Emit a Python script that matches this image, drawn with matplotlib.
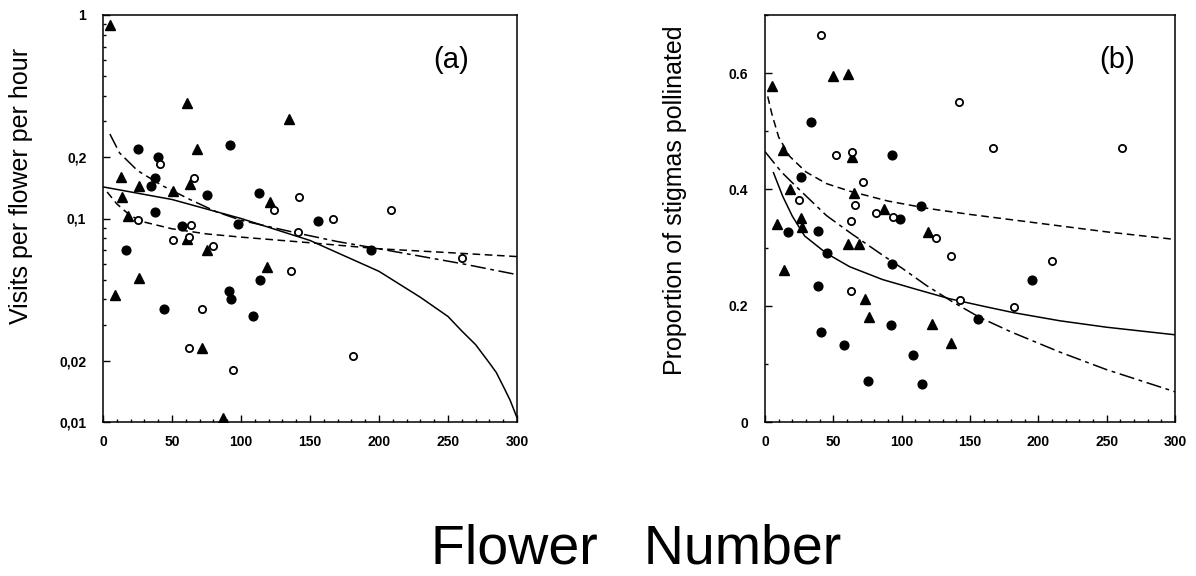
import numpy as np
import matplotlib
matplotlib.use("Agg")
import matplotlib.pyplot as plt
from matplotlib.ticker import FixedLocator, FixedFormatter, MultipleLocator

plt.rcParams['font.family'] = ['Liberation Sans', 'DejaVu Sans']

# ---- panel (a): visits per flower per hour (log scale) ----
tri_a_x = [5, 61, 135, 68, 13, 26, 51, 63, 121, 14, 18, 61, 75, 26, 9, 119, 72, 87]
tri_a_y = [0.89, 0.37, 0.31, 0.22, 0.16, 0.144, 0.137, 0.147, 0.12, 0.128, 0.103,
           0.079, 0.070, 0.051, 0.042, 0.058, 0.023, 0.0105]
fill_a_x = [25, 92, 40, 38, 35, 75, 113, 38, 57, 98, 17, 91, 93, 44, 109, 114, 156, 194]
fill_a_y = [0.22, 0.23, 0.20, 0.158, 0.144, 0.13, 0.134, 0.108, 0.092, 0.094, 0.070,
            0.044, 0.040, 0.036, 0.033, 0.050, 0.097, 0.070]
open_a_x = [41, 66, 142, 124, 25, 64, 51, 62, 80, 72, 136, 141, 167, 62, 94, 209, 260, 181]
open_a_y = [0.186, 0.158, 0.128, 0.11, 0.098, 0.093, 0.078, 0.081, 0.073, 0.036, 0.055,
            0.086, 0.099, 0.023, 0.018, 0.11, 0.064, 0.021]

# fitted curves
solid_a_x = [0, 50, 100, 150, 200, 230, 250, 260, 270, 280, 285, 290, 295, 300]
solid_a_y = [0.143, 0.124, 0.100, 0.078, 0.055, 0.041, 0.033, 0.028, 0.024, 0.0195,
             0.0175, 0.015, 0.0128, 0.0105]
dash_a_x = [3, 10, 20, 30, 50, 75, 100, 150, 200, 250, 300]
dash_a_y = [0.135, 0.118, 0.103, 0.096, 0.089, 0.084, 0.081, 0.076, 0.071, 0.068, 0.065]
dd_a_x = [5, 12, 25, 43, 63, 82, 100, 140, 170, 200, 260, 300]
dd_a_y = [0.26, 0.21, 0.172, 0.145, 0.124, 0.108, 0.098, 0.085, 0.077, 0.071, 0.060, 0.053]

# ---- panel (b): proportion of stigmas pollinated ----
tri_b_x = [5, 50, 61, 13, 64, 18, 65, 87, 9, 26, 27, 119, 61, 69, 14, 73, 76, 122, 136]
tri_b_y = [0.578, 0.595, 0.598, 0.467, 0.456, 0.40, 0.393, 0.367, 0.341, 0.351, 0.336,
           0.326, 0.307, 0.307, 0.262, 0.212, 0.181, 0.169, 0.136]
fill_b_x = [34, 93, 26, 114, 99, 17, 39, 45, 93, 39, 92, 41, 58, 108, 75, 115, 195, 156]
fill_b_y = [0.516, 0.46, 0.422, 0.372, 0.35, 0.327, 0.329, 0.29, 0.271, 0.234, 0.166,
            0.155, 0.133, 0.116, 0.071, 0.065, 0.245, 0.178]
open_b_x = [41, 142, 52, 64, 72, 25, 66, 81, 94, 63, 125, 136, 63, 143, 210, 182, 167, 261]
open_b_y = [0.665, 0.55, 0.459, 0.465, 0.413, 0.381, 0.374, 0.36, 0.352, 0.345, 0.317,
            0.286, 0.226, 0.21, 0.277, 0.198, 0.472, 0.472]

solid_b_x = [6, 13, 20, 29, 45, 62, 86, 111, 135, 160, 182, 216, 250, 300]
solid_b_y = [0.43, 0.388, 0.354, 0.32, 0.29, 0.267, 0.245, 0.228, 0.212, 0.199, 0.188,
             0.174, 0.163, 0.15]
dash_b_x = [2, 5, 10, 18, 30, 45, 62, 90, 120, 150, 200, 250, 300]
dash_b_y = [0.56, 0.53, 0.49, 0.457, 0.43, 0.41, 0.397, 0.38, 0.367, 0.357, 0.342,
            0.327, 0.314]
dd_b_x = [0, 12, 25, 45, 62, 86, 100, 118, 137, 157, 180, 216, 250, 300]
dd_b_y = [0.465, 0.43, 0.40, 0.355, 0.326, 0.287, 0.265, 0.235, 0.207, 0.18, 0.155,
          0.12, 0.09, 0.052]

fig = plt.figure(figsize=(11.96, 5.76), dpi=100)
ax_a = fig.add_axes([103 / 1196, 1 - 422 / 576, 414 / 1196, 407 / 576])
ax_b = fig.add_axes([765 / 1196, 1 - 422 / 576, 410 / 1196, 407 / 576])

lw = 1.1
tick_font = dict(family='Liberation Sans', weight='bold', size=10)


def draw_points(ax, tx, ty, fx, fy, ox, oy):
    ax.plot(tx, ty, '^', color='black', markersize=6.5, linestyle='none', zorder=3)
    ax.plot(fx, fy, 'o', color='black', markersize=6.3, linestyle='none', zorder=3)
    ax.plot(ox, oy, 'o', markerfacecolor='white', markeredgecolor='black',
            markeredgewidth=1.3, markersize=5.2, linestyle='none', zorder=3)


def draw_curves(ax, sx, sy, dx, dy, ddx, ddy):
    ax.plot(sx, sy, color='black', lw=lw, solid_capstyle='butt')
    ax.plot(dx, dy, color='black', lw=lw, dashes=(5, 3))
    ax.plot(ddx, ddy, color='black', lw=lw, dashes=(10, 3, 2.5, 3))


def style(ax):
    ax.set_xlim(0, 300)
    ax.xaxis.set_major_locator(MultipleLocator(50))
    ax.xaxis.set_minor_locator(MultipleLocator(10))
    ax.tick_params(which='both', direction='in', top=False, right=False, width=1.0)
    ax.tick_params(which='major', length=5, pad=9)
    ax.tick_params(which='minor', length=2.5)
    for sp in ax.spines.values():
        sp.set_linewidth(1.1)
    for lab in ax.get_xticklabels() + ax.get_yticklabels():
        lab.set_fontproperties(matplotlib.font_manager.FontProperties(**tick_font))


# panel (a)
draw_curves(ax_a, solid_a_x, solid_a_y, dash_a_x, dash_a_y, dd_a_x, dd_a_y)
draw_points(ax_a, tri_a_x, tri_a_y, fill_a_x, fill_a_y, open_a_x, open_a_y)
ax_a.set_yscale('log')
ax_a.set_ylim(0.01, 1)
ax_a.yaxis.set_major_locator(FixedLocator([0.01, 0.02, 0.1, 0.2, 1]))
ax_a.yaxis.set_major_formatter(FixedFormatter(['0,01', '0,02', '0,1', '0,2', '1']))
ax_a.yaxis.set_minor_locator(FixedLocator([0.03, 0.04, 0.05, 0.06, 0.07, 0.08, 0.09,
                                           0.3, 0.4, 0.5, 0.6, 0.7, 0.8, 0.9]))
ax_a.yaxis.set_minor_formatter(FixedFormatter([''] * 14))
style(ax_a)
ax_a.tick_params(axis='y', which='major', pad=12)
ax_a.set_ylabel('Visits per flower per hour', fontsize=18)
ax_a.yaxis.set_label_coords(-0.17, 0.58)
ax_a.text(0.84, 0.89, '(a)', transform=ax_a.transAxes, fontsize=21,
          ha='center', va='center')

# panel (b)
draw_curves(ax_b, solid_b_x, solid_b_y, dash_b_x, dash_b_y, dd_b_x, dd_b_y)
draw_points(ax_b, tri_b_x, tri_b_y, fill_b_x, fill_b_y, open_b_x, open_b_y)
ax_b.set_ylim(0, 0.70)
ax_b.yaxis.set_major_locator(FixedLocator([0, 0.2, 0.4, 0.6]))
ax_b.yaxis.set_major_formatter(FixedFormatter(['0', '0.2', '0.4', '0.6']))
ax_b.yaxis.set_minor_locator(MultipleLocator(0.1))
style(ax_b)
ax_b.tick_params(axis='y', which='major', pad=12)
ax_b.set_ylabel('Proportion of stigmas pollinated', fontsize=18)
ax_b.yaxis.set_label_coords(-0.19, 0.545)
ax_b.text(0.86, 0.89, '(b)', transform=ax_b.transAxes, fontsize=21,
          ha='center', va='center')

fig.text(636 / 1196, 1 - 549 / 576, 'Flower   Number', fontsize=40,
         ha='center', va='center')

fig.savefig('out.png', dpi=100)
